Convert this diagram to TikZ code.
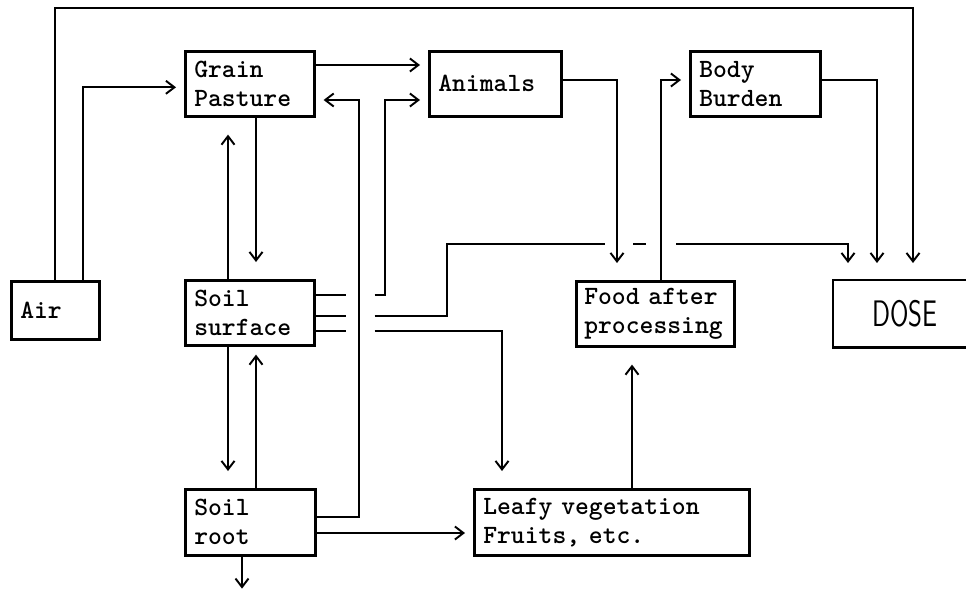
\documentclass[tikz,border=0pt]{standalone}
\usepackage{tikz}
\usepackage{graphicx}
\usetikzlibrary{arrows.meta,calc}

\begin{document}
\begin{tikzpicture}[x=0.02cm,y=-0.02cm,
    >={Straight Barb[length=1.7mm,width=2.6mm]},
    box/.style={draw,line width=1.5pt,anchor=north west,
      inner xsep=0.18cm,inner ysep=0pt,minimum height=1.3cm,align=left,
      font=\ttfamily\bfseries\fontsize{15}{16.5}\selectfont},
    wire/.style={line width=1.1pt},
    flow/.style={wire,->,shorten >=0.16cm},
    flowgap/.style={wire,->,shorten >=0.34cm}]
  \useasboundingbox (0,0) rectangle (966,588);

    \node[box,text width=1.40cm,minimum height=1.16cm] (air) at (10,280) {Air};
    \node[box,text width=2.22cm] (grain) at (184,50) {Grain\\Pasture};
    \node[box,text width=2.28cm] (animals) at (428,50) {Animals};
    \node[box,text width=2.24cm] (body) at (689,50) {Body\\Burden};
    \node[box,text width=2.22cm] (surface) at (184,279) {Soil\\surface};
    \node[box,text width=2.84cm,inner xsep=0.16cm] (food) at (575,280)
      {Food after\\processing};
    \node[box,draw=none,text width=1.90cm,inner xsep=0.76cm,
          font=\sffamily\fontsize{21}{21}\selectfont] (dose) at (833,280)
      {\scalebox{0.72}[1]{DOSE}};
    \draw[line width=1.6pt] (dose.north east) -- (dose.north west)
      -- (dose.south west) -- (dose.south east);
    \node[box,text width=2.24cm,minimum height=1.32cm] (root) at (184,488)
      {Soil\\root};
    \node[box,text width=5.14cm,minimum height=1.32cm] (leafy) at (473,488)
      {Leafy vegetation\\Fruits, etc.};

    \draw[flow] ($(air.north west)+(73,0)$) |- ($(grain.west)+(0,3.5)$);
    \draw[flowgap] ($(air.north west)+(45,0)$) -- ++(0,-272)
      -| ($(dose.north west)+(80,0)$);
    \draw[flow] ($(grain.north east)+(0,15)$) -- ($(animals.north west)+(0,15)$);
    \draw[flow] ($(root.north east)+(0,29)$) -| ($(grain.north east)+(43,50)$)
      -- ($(grain.north east)+(0,50)$);

    \foreach \dy in {16,37,52}
      \draw[wire] ($(surface.north east)+(0,\dy)$) -- ++(30,0);
    \draw[flow] ($(surface.north east)+(59,16)$) -| ($(animals.north west)+(-43,50)$)
      -- ($(animals.north west)+(0,50)$);
    \draw[wire] ($(surface.north east)+(59,37)$) -| ++(72,-72)
      -- ($(food.north west)+(30,-36)$);
    \draw[wire] ($(food.north west)+(58,-36)$) -- ++(13,0);
    \draw[flowgap] ($(food.north west)+(101,-36)$) -| ($(dose.north west)+(15,0)$);
    \draw[flowgap] ($(surface.north east)+(59,52)$) -| ($(leafy.north west)+(29,0)$);

    \draw[flowgap] ($(animals.north east)+(0,30)$) -| ($(food.north west)+(42,0)$);
    \draw[flow] ($(food.north west)+(86,0)$) |- ($(body.north west)+(0,30)$);
    \draw[flowgap] ($(body.north east)+(0,30)$) -| ($(dose.north west)+(44,0)$);

    \draw[flowgap] ($(grain.south west)+(72,0)$) -- ($(surface.north west)+(72,0)$);
    \draw[flowgap] ($(surface.north west)+(44,0)$) -- ($(grain.south west)+(44,0)$);
    \draw[flowgap] ($(surface.south west)+(44,0)$) -- ($(root.north west)+(44,0)$);
    \draw[flow] ($(root.north west)+(72,0)$) -- ($(surface.south west)+(72,0)$);
    \draw[flow] ($(root.north east)+(0,45)$) -- ($(leafy.north west)+(0,45)$);
    \draw[wire,->] ($(root.south west)+(58,0)$) -- ++(0,32);
    \draw[flowgap] ($(leafy.north west)+(159,0)$) -- ($(food.south west)+(57,0)$);
  \end{tikzpicture}
\end{document}
